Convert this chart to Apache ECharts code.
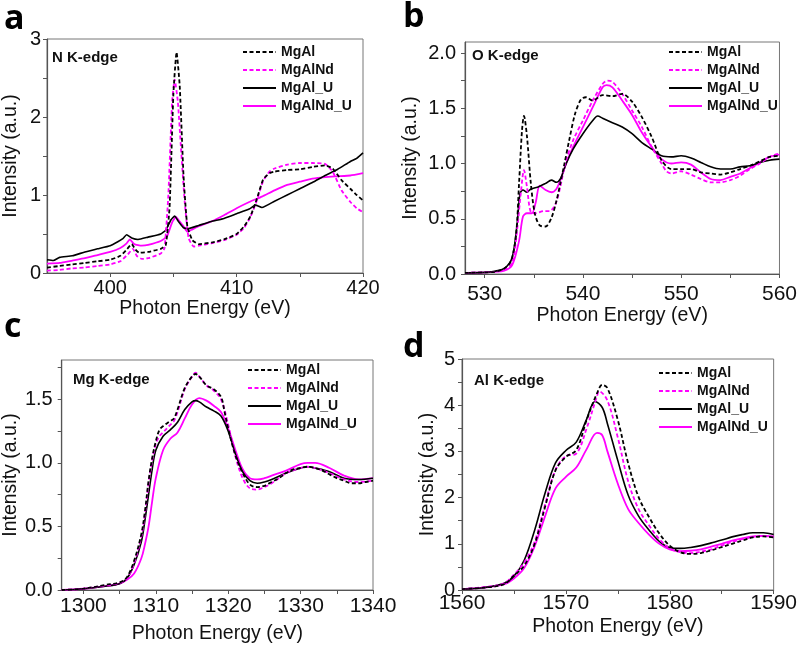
<!DOCTYPE html>
<html><head><meta charset="utf-8">
<script src="https://cdn.jsdelivr.net/npm/echarts@6/dist/echarts.min.js"></script>
<style>html,body{margin:0;padding:0;background:#fff}#c{width:800px;height:645px}</style>
</head><body><div id="c"></div>
<script>
const seriesNames = ['MgAl', 'MgAlNd', 'MgAl_U', 'MgAlNd_U'];
const panelTitles = ['N K-edge', 'O K-edge', 'Mg K-edge', 'Al K-edge'];
const panelLetters = ['a', 'b', 'c', 'd'];

// Panel a: N K-edge
const nMgAl = [[395,0.07],[396,0.09],[397,0.11],[398,0.13],[399,0.15],[400,0.17],[400.8,0.22],[401.3,0.3],[401.7,0.37],[402.0,0.3],[402.3,0.26],[403,0.27],[404,0.31],[404.4,0.36],[404.7,0.85],[405.0,2.3],[405.25,2.83],[405.5,2.4],[405.8,1.25],[406.1,0.6],[406.5,0.42],[407,0.37],[408,0.39],[409,0.43],[410,0.5],[410.6,0.6],[411.1,0.73],[411.6,0.95],[412.1,1.2],[412.6,1.28],[413,1.3],[414,1.32],[415,1.33],[416,1.36],[417,1.38],[417.6,1.34],[418.3,1.19],[419,1.08],[419.5,1.0],[420,0.93]];
const nMgAlNd = [[395,0.03],[396,0.04],[397,0.06],[398,0.07],[399,0.09],[400,0.11],[400.8,0.15],[401.4,0.24],[401.8,0.31],[402.1,0.22],[402.5,0.18],[403,0.19],[404,0.25],[404.3,0.32],[404.6,1.0],[404.9,2.2],[405.1,2.48],[405.35,2.2],[405.6,1.6],[405.9,0.9],[406.2,0.45],[406.6,0.34],[407,0.35],[408,0.38],[409,0.42],[410,0.49],[410.6,0.58],[411.1,0.72],[411.6,0.93],[412.1,1.18],[412.6,1.3],[413,1.34],[414,1.39],[415,1.41],[416,1.41],[417,1.4],[417.6,1.3],[418.3,1.06],[419,0.91],[419.5,0.83],[420,0.78]];
const nMgAlU = [[395,0.17],[395.5,0.16],[396,0.2],[397,0.22],[398,0.27],[399,0.31],[400,0.35],[400.6,0.4],[401,0.44],[401.3,0.49],[401.7,0.45],[402.2,0.43],[403,0.46],[404,0.5],[404.4,0.55],[404.8,0.68],[405.1,0.73],[405.4,0.66],[405.8,0.58],[406.2,0.57],[407,0.61],[408,0.66],[409,0.7],[410,0.76],[411,0.82],[411.5,0.87],[412,0.84],[413,0.92],[414,1.0],[415,1.08],[416,1.16],[417,1.25],[418,1.33],[419,1.43],[419.5,1.47],[420,1.54]];
const nMgAlNdU = [[395,0.12],[396,0.13],[397,0.16],[398,0.19],[399,0.23],[400,0.27],[400.8,0.32],[401.3,0.38],[401.55,0.43],[401.9,0.37],[402.5,0.35],[403,0.36],[404,0.41],[404.5,0.47],[404.9,0.65],[405.2,0.72],[405.5,0.66],[405.8,0.6],[406.1,0.53],[406.5,0.56],[407,0.6],[408,0.66],[409,0.74],[410,0.83],[411,0.91],[412,0.98],[413,1.06],[414,1.13],[415,1.17],[416,1.21],[417,1.23],[418,1.24],[419,1.25],[420,1.28]];

// Panel b: O K-edge
const oMgAl = [[528,0.01],[530,0.015],[531,0.02],[532,0.05],[532.7,0.12],[533.2,0.36],[533.5,0.82],[533.8,1.3],[534.0,1.43],[534.3,1.25],[534.7,0.82],[535.1,0.55],[535.6,0.44],[536.2,0.43],[536.8,0.51],[537.3,0.66],[537.7,0.82],[538.1,0.99],[538.6,1.21],[539.2,1.45],[539.8,1.58],[540.3,1.6],[541,1.57],[542,1.62],[543,1.61],[544,1.63],[545,1.56],[546,1.42],[547,1.24],[548,1.03],[549,0.95],[550,0.95],[551,0.95],[552,0.92],[553,0.91],[554,0.9],[555,0.92],[556,0.95],[557,0.98],[558,1.02],[559,1.06],[560,1.07]];
const oMgAlNd = [[528,0.01],[530,0.015],[531,0.02],[532,0.04],[532.8,0.1],[533.3,0.4],[533.7,0.75],[534.0,0.94],[534.3,0.79],[534.7,0.56],[535.2,0.55],[536,0.57],[536.6,0.57],[537.2,0.63],[537.7,0.79],[538.2,1.0],[539,1.21],[540,1.39],[541,1.57],[542,1.72],[542.5,1.75],[543,1.74],[544,1.63],[545,1.48],[546,1.33],[547,1.15],[548,1.0],[548.5,0.93],[549,0.91],[550,0.93],[551,0.9],[552,0.86],[553,0.83],[554,0.83],[555,0.85],[556,0.89],[557,0.95],[558,1.0],[559,1.06],[560,1.09]];
const oMgAlU = [[528,0.01],[530,0.015],[531,0.025],[532,0.05],[532.8,0.15],[533.3,0.45],[533.6,0.73],[533.9,0.76],[534.3,0.74],[534.7,0.77],[535.5,0.79],[536.2,0.82],[536.8,0.85],[537.3,0.83],[537.7,0.86],[538.3,1.0],[539,1.13],[540,1.27],[541,1.39],[541.5,1.43],[542,1.41],[543,1.37],[544,1.33],[545,1.27],[546,1.19],[547,1.13],[548,1.07],[549,1.06],[550,1.07],[551,1.05],[552,1.01],[553,0.97],[554,0.95],[555,0.95],[556,0.97],[557,0.98],[558,1.01],[559,1.03],[560,1.04]];
const oMgAlNdU = [[528,0.01],[530,0.015],[531,0.02],[532,0.03],[532.8,0.08],[533.5,0.3],[533.9,0.52],[534.3,0.55],[534.8,0.55],[535.2,0.65],[535.6,0.8],[536.2,0.76],[536.8,0.74],[537.3,0.77],[537.7,0.85],[538.3,1.0],[539,1.15],[540,1.33],[541,1.51],[542,1.69],[542.4,1.71],[543,1.69],[544,1.57],[545,1.44],[546,1.28],[547,1.15],[548,1.04],[549,1.0],[550,1.01],[551,0.99],[552,0.92],[553,0.86],[554,0.85],[555,0.88],[556,0.91],[557,0.96],[558,1.01],[559,1.06],[560,1.08]];

// Panel c: Mg K-edge
const mgMgAl = [[1297,0.0],[1300,0.01],[1303,0.04],[1305,0.06],[1306,0.1],[1307,0.23],[1308,0.44],[1308.5,0.62],[1309,0.86],[1309.5,1.04],[1310,1.17],[1310.5,1.26],[1311,1.29],[1312,1.33],[1312.5,1.35],[1313,1.42],[1314,1.59],[1315,1.68],[1315.5,1.7],[1316,1.68],[1317,1.61],[1318,1.58],[1319,1.52],[1319.5,1.4],[1320,1.27],[1321,1.06],[1322,0.92],[1323,0.83],[1324,0.81],[1325,0.82],[1326,0.85],[1327,0.88],[1328,0.92],[1329,0.95],[1330,0.96],[1331,0.97],[1332,0.96],[1333,0.94],[1334,0.91],[1335,0.88],[1336,0.86],[1337,0.84],[1338,0.84],[1339,0.85],[1340,0.86]];
const mgMgAlNd = [[1297,0.0],[1300,0.01],[1303,0.035],[1305,0.055],[1306,0.09],[1307,0.21],[1308,0.42],[1308.5,0.6],[1309,0.84],[1309.5,1.02],[1310,1.15],[1310.5,1.21],[1311,1.24],[1312,1.3],[1312.5,1.33],[1313,1.4],[1314,1.58],[1315,1.68],[1315.5,1.71],[1316,1.68],[1317,1.61],[1318,1.57],[1319,1.5],[1320,1.3],[1321,1.05],[1322,0.88],[1323,0.8],[1324,0.79],[1325,0.81],[1326,0.84],[1327,0.88],[1328,0.92],[1330,0.96],[1331,0.97],[1332,0.96],[1334,0.92],[1336,0.87],[1338,0.85],[1340,0.86]];
const mgMgAlU = [[1297,0.0],[1300,0.01],[1303,0.03],[1305,0.05],[1306,0.09],[1307,0.2],[1308,0.38],[1308.5,0.55],[1309,0.75],[1309.5,0.95],[1310,1.1],[1311,1.21],[1312,1.26],[1313,1.32],[1314,1.42],[1315,1.48],[1315.5,1.49],[1316,1.48],[1317,1.44],[1318,1.41],[1319,1.37],[1320,1.25],[1321,1.07],[1322,0.93],[1323,0.86],[1324,0.84],[1325,0.85],[1326,0.87],[1328,0.92],[1330,0.96],[1331,0.97],[1332,0.96],[1334,0.93],[1336,0.88],[1338,0.87],[1340,0.88]];
const mgMgAlNdU = [[1297,0.0],[1300,0.01],[1303,0.03],[1305,0.05],[1306,0.08],[1307,0.13],[1308,0.25],[1308.5,0.36],[1309,0.5],[1309.5,0.7],[1310,0.88],[1311,1.1],[1312,1.19],[1313,1.24],[1314,1.35],[1315,1.46],[1316,1.51],[1317,1.49],[1318,1.45],[1319,1.4],[1320,1.27],[1321,1.1],[1322,0.95],[1323,0.88],[1324,0.87],[1325,0.88],[1326,0.9],[1328,0.94],[1330,0.99],[1331,1.0],[1332,1.0],[1334,0.96],[1336,0.9],[1338,0.87],[1340,0.88]];

// Panel d: Al K-edge
const alMgAl = [[1560,0.02],[1562,0.05],[1564,0.12],[1565,0.31],[1566,0.53],[1567,1.0],[1568,1.8],[1569,2.59],[1570,2.88],[1571,3.03],[1572,3.68],[1573,4.26],[1573.5,4.44],[1574,4.37],[1575,3.68],[1576,2.74],[1577,2.01],[1578,1.58],[1579,1.22],[1580,0.96],[1581,0.82],[1582,0.78],[1583,0.8],[1584,0.86],[1585,0.93],[1586,1.0],[1587,1.07],[1588,1.14],[1589,1.16],[1590,1.14]];
const alMgAlNd = [[1560,0.02],[1562,0.06],[1564,0.14],[1565,0.33],[1566,0.6],[1567,1.05],[1568,1.85],[1569,2.6],[1570,2.9],[1571,2.95],[1572,3.5],[1573,4.2],[1573.2,4.3],[1574,4.1],[1575,3.3],[1576,2.35],[1577,1.75],[1578,1.4],[1579,1.1],[1580,0.9],[1581,0.82],[1582,0.8],[1583,0.83],[1584,0.88],[1585,0.96],[1586,1.04],[1587,1.1],[1588,1.15],[1589,1.17],[1590,1.15]];
const alMgAlU = [[1560,0.02],[1562,0.05],[1564,0.14],[1565,0.3],[1566,0.65],[1567,1.3],[1568,2.1],[1569,2.75],[1570,3.02],[1571,3.2],[1572,3.7],[1572.8,4.08],[1573.5,3.95],[1574,3.6],[1575,2.8],[1576,2.05],[1577,1.6],[1578,1.3],[1579,1.05],[1580,0.92],[1581,0.9],[1582,0.92],[1583,0.96],[1584,1.02],[1585,1.08],[1586,1.15],[1587,1.2],[1588,1.24],[1589,1.24],[1590,1.2]];
const alMgAlNdU = [[1560,0.02],[1562,0.05],[1564,0.12],[1565,0.25],[1566,0.48],[1567,0.95],[1568,1.6],[1569,2.2],[1570,2.45],[1571,2.65],[1572,3.05],[1573,3.4],[1573.5,3.35],[1574,3.0],[1575,2.3],[1576,1.75],[1577,1.45],[1578,1.2],[1579,1.0],[1580,0.88],[1581,0.84],[1582,0.85],[1583,0.88],[1584,0.94],[1585,1.0],[1586,1.07],[1587,1.12],[1588,1.16],[1589,1.17],[1590,1.16]];

// Ticks and labels
const aXTicks = [400,405,410,415,420], aXLabels = [400,410,420];
const aYTicks = [0,0.5,1,1.5,2,2.5,3], aYLabels = [0,1,2,3];
const bXTicks = [530,535,540,545,550,555,560], bXLabels = [530,540,550,560];
const bYTicks = [0,0.25,0.5,0.75,1,1.25,1.5,1.75,2], bYLabels = [0,0.5,1,1.5,2];
const cXTicks = [1300,1305,1310,1315,1320,1325,1330,1335,1340], cXLabels = [1300,1310,1320,1330,1340];
const cYTicks = [0,0.25,0.5,0.75,1,1.25,1.5,1.75], cYLabels = [0,0.5,1,1.5];
const dXTicks = [1560,1565,1570,1575,1580,1585,1590], dXLabels = [1560,1570,1580,1590];
const dYTicks = [0,0.5,1,1.5,2,2.5,3,3.5,4,4.5,5], dYLabels = [0,1,2,3,4,5];

const panelData = [
  [nMgAl, nMgAlNd, nMgAlU, nMgAlNdU],
  [oMgAl, oMgAlNd, oMgAlU, oMgAlNdU],
  [mgMgAl, mgMgAlNd, mgMgAlU, mgMgAlNdU],
  [alMgAl, alMgAlNd, alMgAlU, alMgAlNdU]
];

const FONT = '"Liberation Sans", Arial, sans-serif';
const layout = [
  {grid:{left:45,top:39,width:318,height:234}, x:[395,420], y:[0,3], xt:aXTicks, xl:aXLabels, yt:aYTicks, yl:aYLabels, dec:0, xf:20, xm:5, xg:17, ym:6, yg:26, leg:{left:242,top:45}, title:[52,59], letter:[4,2], sm:0.15},
  {grid:{left:465,top:42,width:318,height:232}, x:[528,560], y:[0,2.1], xt:bXTicks, xl:bXLabels, yt:bYTicks, yl:bYLabels, dec:1, xf:21, xm:10, xg:27, ym:9, yg:44, leg:{left:668,top:45}, title:[472,57], letter:[403,0], sm:0.3},
  {grid:{left:59,top:360,width:314,height:230}, x:[1297,1340], y:[0,1.81], xt:cXTicks, xl:cXLabels, yt:cYTicks, yl:cYLabels, dec:1, xf:21, xm:6, xg:34, ym:9, yg:40, leg:{left:247,top:363}, title:[73,381], letter:[4,310], sm:0.35},
  {grid:{left:462,top:359,width:316,height:231}, x:[1560,1590], y:[0,5], xt:dXTicks, xl:dXLabels, yt:dYTicks, yl:dYLabels, dec:0, xf:21, xm:3, xg:27, ym:7, yg:24, leg:{left:658,top:366}, title:[474,382], letter:[403,330], sm:0.35}
];

const styles = [
  {color:'#000000', type:[4,2.5], width:1.8},
  {color:'#ff00ff', type:[4,2.5], width:1.8},
  {color:'#000000', type:'solid', width:1.6},
  {color:'#ff00ff', type:'solid', width:1.8}
];

const axisLineStyle = {color:'#555', width:1.2};
const option = {
  animation:false,
  backgroundColor:'#fff',
  grid: layout.map(l => Object.assign({show:true, borderColor:'#777', borderWidth:1}, l.grid)),
  xAxis: layout.map((l, i) => ({
    type:'value', gridIndex:i, min:l.x[0], max:l.x[1],
    name:'Photon Energy (eV)', nameLocation:'middle', nameGap:l.xg,
    nameTextStyle:{fontFamily:FONT, fontSize:19.5, color:'#111'},
    axisLine:{show:true, onZero:false, lineStyle:axisLineStyle},
    axisTick:{show:true, inside:false, length:4, customValues:l.xt, lineStyle:{color:'#555'}},
    axisLabel:{customValues:l.xl, margin:l.xm, fontFamily:FONT, fontSize:l.xf, color:'#111',
      formatter: v => String(v)},
    splitLine:{show:false}
  })),
  yAxis: layout.map((l, i) => ({
    type:'value', gridIndex:i, min:l.y[0], max:l.y[1],
    name:'Intensity (a.u.)', nameLocation:'middle', nameGap:l.yg,
    nameTextStyle:{fontFamily:FONT, fontSize:19.5, color:'#111'},
    axisLine:{show:true, onZero:false, lineStyle:axisLineStyle},
    axisTick:{show:true, inside:false, length:4, customValues:l.yt, lineStyle:{color:'#555'}},
    axisLabel:{customValues:l.yl, margin:l.ym, fontFamily:FONT, fontSize:20, color:'#111',
      formatter: v => v.toFixed(l.dec)},
    splitLine:{show:false}
  })),
  legend: layout.map(l => ({
    left:l.leg.left, top:l.leg.top, orient:'vertical', align:'left', padding:0,
    itemWidth:33, itemHeight:14, itemGap:4, data:seriesNames,
    itemStyle:{opacity:0},
    textStyle:{fontFamily:FONT, fontSize:14, fontWeight:'bold', color:'#111'},
    selectedMode:false
  })),
  series: [],
  graphic: []
};

panelData.forEach((arrs, p) => {
  const l = layout[p];
  arrs.forEach((d, s) => {
    option.series.push({
      name: seriesNames[s], type:'line', xAxisIndex:p, yAxisIndex:p,
      data: d, symbol:'none', showSymbol:false, smooth: l.sm,
      lineStyle: {color:styles[s].color, type:styles[s].type, width:styles[s].width},
      itemStyle: {color:styles[s].color}, z: 10 - s
    });
  });
  option.graphic.push({type:'text', left:l.title[0], top:l.title[1]-9,
    style:{text:panelTitles[p], fontFamily:FONT, fontSize:15, fontWeight:'bold', fill:'#111'}});
  option.graphic.push({type:'text', left:l.letter[0], top:l.letter[1],
    style:{text:panelLetters[p], fontFamily:'"Open Sans", "Liberation Sans", sans-serif', fontSize:34, fontWeight:'bold', fill:'#000'}});
});

const chart = echarts.init(document.getElementById('c'), null, {renderer:'canvas'});
chart.setOption(option);
</script>
</body></html>
